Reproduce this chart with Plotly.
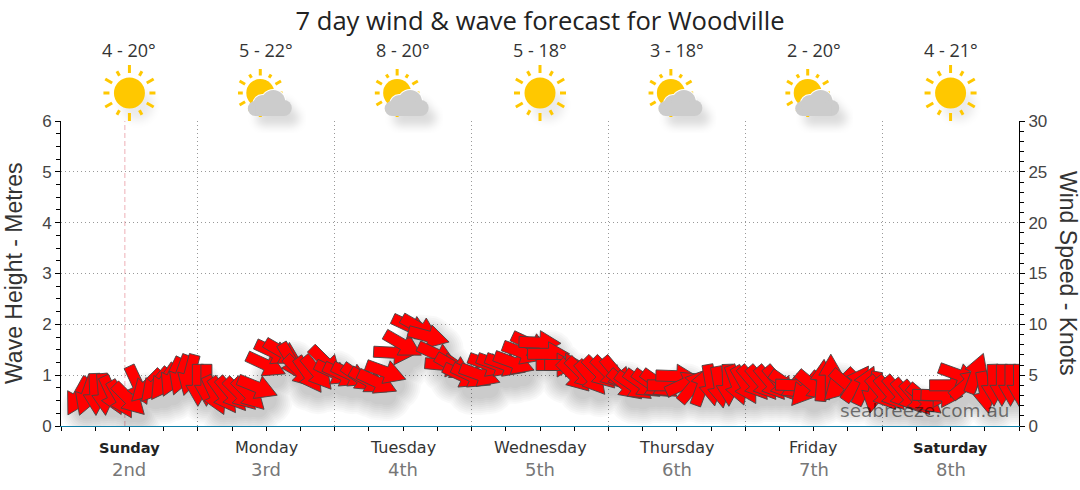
import base64
import math

import plotly.graph_objects as go

W, H = 1080, 490
L, R, T, B = 61, 61, 121, 64
PLOT_W = W - L - R
PLOT_H = H - T - B

HOURS_PER_DAY = 24
days = ['Sunday', 'Monday', 'Tuesday', 'Wednesday', 'Thursday', 'Friday', 'Saturday']
dates = ['2nd', '3rd', '4th', '5th', '6th', '7th', '8th']
temps = ['4 - 20°', '5 - 22°', '8 - 20°', '5 - 18°', '3 - 18°', '2 - 20°', '4 - 21°']
icons = ['sun', 'cloud', 'cloud', 'sun', 'cloud', 'cloud', 'sun']
weekend = ['Sunday', 'Saturday']
now_hour = 11.2

# one arrow every 1.5 hours from 3am
start_hour = 3
step_hours = 1.5
wind_knots = [
    2.9, 3.0, 3.1, 3.1, 3.0, 2.6, 2.6, 4.0, 3.9, 4.0, 4.3, 4.8, 5.0, 5.0, 4.0,
    4.0, 3.0, 3.0, 3.1, 3.1, 3.1, 3.8, 6.0, 7.2, 7.2, 6.3, 5.3, 5.0, 5.2, 6.2, 5.2,
    5.0, 5.0, 4.7, 4.4, 4.3, 5.3, 7.2, 8.0, 9.7, 9.6, 8.8, 7.0, 6.0, 5.8, 4.9, 4.9,
    5.0, 6.0, 6.0, 6.0, 6.2, 7.2, 8.0, 8.2, 7.1, 6.0, 6.0, 4.9, 5.1, 4.7, 5.2, 5.2,
    5.1, 4.0, 3.9, 4.1, 4.1, 4.1, 4.0, 4.9, 4.2, 4.0, 4.0, 4.0, 3.8, 4.0, 4.0, 4.0,
    4.2, 4.2, 4.2, 4.2, 4.0, 4.0, 3.6, 3.9, 4.5, 5.0, 4.0, 4.0, 4.2, 4.0, 3.3, 3.2,
    3.2, 3.2, 2.9, 2.7, 2.6, 3.0, 3.0, 4.0, 5.0, 4.2, 5.2, 3.3, 4.0, 4.0, 4.0, 4.0,
]
# direction the arrow points, degrees clockwise from up
wind_dir = [
    209, 200, 178, 175, 155, 150, 135, 155, 225, 220, 215, 205, 200, 195, 180,
    180, 155, 145, 140, 135, 135, 112, 115, 115, 120, 150, 135, 145, 140, 135, 115,
    115, 115, 125, 120, 115, 110, 93, 120, 115, 120, 105, 115, 95, 120, 115, 115,
    110, 110, 110, 110, 110, 110, 115, 92, 90, 90, 90, 135, 135, 140, 135, 135,
    140, 130, 125, 125, 125, 125, 90, 92, 65, 40, 20, 170, 170, 178, 160, 150,
    140, 140, 140, 140, 125, 92, 220, 130, 5, 0, 225, 130, 35, 25, 190, 140,
    140, 140, 140, 140, 130, 92, 92, 90, 110, 50, 20, 170, 178, 180, 180, 180,
]

ARROW_LEN = 42
ARROW_SHAFT = 11
ARROW_HEAD = 24
ARROW_HEAD_LEN = 21

x_scale = (7 * HOURS_PER_DAY) / PLOT_W
y_scale = 30 / PLOT_H


def arrow_outline(hour, knots, angle):
    # block arrow in pixels around its centre, turned, then back to axis units
    half = ARROW_LEN / 2
    neck = half - ARROW_HEAD_LEN
    shape = [(-ARROW_SHAFT / 2, -half), (ARROW_SHAFT / 2, -half), (ARROW_SHAFT / 2, neck),
             (ARROW_HEAD / 2, neck), (0, half), (-ARROW_HEAD / 2, neck), (-ARROW_SHAFT / 2, neck),
             (-ARROW_SHAFT / 2, -half)]
    rad = math.radians(angle)
    xs, ys = [], []
    for across, along in shape:
        px = across * math.cos(rad) + along * math.sin(rad)
        py = -across * math.sin(rad) + along * math.cos(rad)
        xs.append(hour + px * x_scale)
        ys.append(knots + py * y_scale)
    return xs, ys


def shadow_blob(hour, knots, radius):
    # round patch below and to the right of an arrow
    xs, ys = [], []
    for deg in range(0, 361, 15):
        a = math.radians(deg)
        xs.append(hour + (9 + radius * math.sin(a)) * x_scale)
        ys.append(knots + (-13 + radius * math.cos(a)) * y_scale)
    return xs, ys


hours = [start_hour + step_hours * i for i in range(len(wind_knots))]

fig = go.Figure()

# keeps the left axis alive, it has no marks of its own
fig.add_trace(go.Scatter(x=[0], y=[0], xaxis='x', yaxis='y', mode='none', hoverinfo='skip', showlegend=False))

# soft shadow: one filled path per layer so overlaps do not add up
for radius in [26, 24, 22, 20, 18, 16, 14, 12, 10]:
    shadow_x, shadow_y = [], []
    for hour, knots in zip(hours, wind_knots):
        xs, ys = shadow_blob(hour, knots, radius)
        shadow_x += xs + [None]
        shadow_y += ys + [None]
    fig.add_trace(go.Scatter(
        x=shadow_x, y=shadow_y, xaxis='x', yaxis='y2', mode='none', fill='toself',
        fillcolor='rgba(0,0,0,0.022)', hoverinfo='skip', showlegend=False, cliponaxis=False,
    ))

for hour, knots, angle in zip(hours, wind_knots, wind_dir):
    xs, ys = arrow_outline(hour, knots, angle)
    fig.add_trace(go.Scatter(
        x=xs, y=ys, xaxis='x', yaxis='y2', mode='lines', fill='toself',
        fillcolor='#ff0000', line=dict(color='#444444', width=0.9),
        hoverinfo='skip', showlegend=False, cliponaxis=False,
    ))


def icon_source(kind):
    rays = ''
    cx, cy, radius, inner, scale = 40, 40, 15.5, 20, 1.0
    if kind == 'cloud':
        cx, cy, radius, inner, scale = 34, 40, 14, 17.5, 0.8
    for deg, ray in zip(range(0, 360, 30), [8, 5, 8, 6, 8, 5, 8, 5, 8, 6, 8, 5]):
        a = math.radians(deg)
        outer = inner + ray * scale
        rays += (f'<line x1="{cx + inner * math.sin(a):.1f}" y1="{cy - inner * math.cos(a):.1f}" '
                 f'x2="{cx + outer * math.sin(a):.1f}" y2="{cy - outer * math.cos(a):.1f}" '
                 f'stroke="#ffc800" stroke-width="3"/>')
    sun = f'<g>{rays}<circle cx="{cx}" cy="{cy}" r="{radius}" fill="#ffc800"/></g>'

    def cloud(colour):
        parts = ''
        for ccx, ccy, r in [(29, 55.5, 7.5), (36, 51, 9), (47, 49, 12), (57.5, 55, 8)]:
            parts += f'<circle cx="{ccx}" cy="{ccy}" r="{r}" fill="{colour}"/>'
        return parts + f'<rect x="29" y="52" width="28.5" height="11" fill="{colour}"/>'

    if kind == 'sun':
        shadow = '<circle cx="48" cy="52" r="16" fill="#000" opacity="0.08" filter="url(#b)"/>'
        body = sun
    else:
        shadow = '<g transform="translate(8,10)" opacity="0.14" filter="url(#b)">' + cloud('#000') + '</g>'
        rim = '<circle cx="36" cy="51" r="10" fill="#fff"/><circle cx="47" cy="49" r="13" fill="#fff"/>'
        body = sun + rim + cloud('#cccccc')
    svg = ('<svg xmlns="http://www.w3.org/2000/svg" width="80" height="80" viewBox="0 0 80 80">'
           '<defs><filter id="b" x="-50%" y="-50%" width="200%" height="200%">'
           '<feGaussianBlur stdDeviation="5"/></filter></defs>' + shadow + body + '</svg>')
    return 'data:image/svg+xml;base64,' + base64.b64encode(svg.encode()).decode()


def paper_y(py):
    return (H - B - py) / PLOT_H


def paper_x(px):
    return (px - L) / PLOT_W


images = []
annotations = []
day_ticks = [HOURS_PER_DAY * i for i in range(len(days) + 1)]
noon_ticks = [HOURS_PER_DAY * i + 12 for i in range(len(days))]
quarter_ticks = [6 * i for i in range(7 * 4 + 1)]

for noon, temp, icon in zip(noon_ticks, temps, icons):
    annotations.append(dict(
        x=noon, xref='x', y=paper_y(50), yref='paper', text=temp, showarrow=False,
        xanchor='center', yanchor='middle', font=dict(family='Open Sans', size=18, color='#333333'),
    ))
    images.append(dict(
        source=icon_source(icon), xref='x', yref='paper',
        x=noon, y=paper_y(93),
        sizex=80 * x_scale, sizey=80 / PLOT_H,
        xanchor='center', yanchor='middle', layer='above',
    ))

for noon, day, date in zip(noon_ticks, days, dates):
    bold = day in weekend
    annotations.append(dict(
        x=noon, xref='x', y=paper_y(447), yref='paper', text=f'<b>{day}</b>' if bold else day, showarrow=False,
        xanchor='center', yanchor='middle',
        font=dict(family='DejaVu Sans', size=14.6 if bold else 16, color='#222222' if bold else '#333333'),
    ))
    annotations.append(dict(
        x=noon, xref='x', y=paper_y(469), yref='paper', text=date, showarrow=False,
        xanchor='center', yanchor='middle',
        font=dict(family='DejaVu Sans', size=18, color='#777777'),
    ))

annotations.append(dict(
    x=paper_x(925), xref='paper', y=paper_y(410), yref='paper', text='seabreeze.com.au', showarrow=False,
    xanchor='center', yanchor='middle',
    font=dict(family='DejaVu Sans', size=18.5, color='rgba(0,0,0,0.5)'),
))
annotations.append(dict(
    x=paper_x(14), xref='paper', y=paper_y(273), yref='paper', text='Wave Height - Metres', showarrow=False,
    xanchor='center', yanchor='middle', textangle=-90,
    font=dict(family='Liberation Sans', size=23, color='#333333'),
))
annotations.append(dict(
    x=paper_x(1068), xref='paper', y=paper_y(273), yref='paper', text='Wind Speed - Knots', showarrow=False,
    xanchor='center', yanchor='middle', textangle=90,
    font=dict(family='Liberation Sans', size=23, color='#333333'),
))

grid_dots = '1px,3px'

fig.update_layout(
    width=W,
    height=H,
    autosize=False,
    margin=dict(l=L, r=R, t=T, b=B, pad=0),
    plot_bgcolor='white',
    paper_bgcolor='white',
    showlegend=False,
    title=dict(text='7 day wind &amp; wave forecast for Woodville', x=0.5, xanchor='center',
               y=(H - 21) / H, yanchor='middle', yref='container',
               font=dict(family='Open Sans', size=25.6, color='#222222')),
    xaxis=dict(
        range=[0, 168], tickmode='array', tickvals=day_ticks, ticktext=['' for _ in day_ticks],
        ticks='outside', ticklen=9, tickcolor='#000000', tickwidth=1,
        showline=True, linecolor='#0f7fa8', linewidth=1, zeroline=False,
        showgrid=True, griddash=grid_dots, gridcolor='#999999', gridwidth=1,
        minor=dict(tickmode='array', tickvals=quarter_ticks, ticks='outside', ticklen=4,
                   tickcolor='#000000', showgrid=False),
    ),
    yaxis=dict(
        range=[0, 6], dtick=1, ticks='outside', ticklen=5, tickcolor='#000000',
        showline=True, linecolor='#000000', showgrid=True, griddash=grid_dots, gridcolor='#999999',
        zeroline=False, tickfont=dict(family='Liberation Sans', size=17, color='#444444'),
        minor=dict(dtick=0.25, ticks='outside', ticklen=4, tickcolor='#000000', showgrid=False),
    ),
    yaxis2=dict(
        overlaying='y', side='right', range=[0, 30], dtick=5, ticks='outside', ticklen=5, tickcolor='#000000',
        showline=True, linecolor='#000000', showgrid=False, zeroline=False,
        tickfont=dict(family='Liberation Sans', size=17, color='#444444'),
        minor=dict(dtick=1, ticks='outside', ticklen=4, tickcolor='#000000', showgrid=False),
    ),
    annotations=annotations,
    images=images,
    shapes=[dict(type='line', xref='x', yref='paper', x0=now_hour, x1=now_hour, y0=0, y1=1,
                 line=dict(color='#eeb0b6', width=1, dash='5px,3px'), layer='below')],
)

# default body margin would push the figure 8px off, and the last arrow hangs over the right axis
page_fixes = """
document.body.style.margin = '0';
document.querySelectorAll('.cartesianlayer .plot, .scatterlayer, .scatterlayer *').forEach(function (el) {
    el.removeAttribute('clip-path');
    el.style.clipPath = 'none';
});
"""

fig.write_html("out.html", config={'displayModeBar': False}, post_script=page_fixes)
